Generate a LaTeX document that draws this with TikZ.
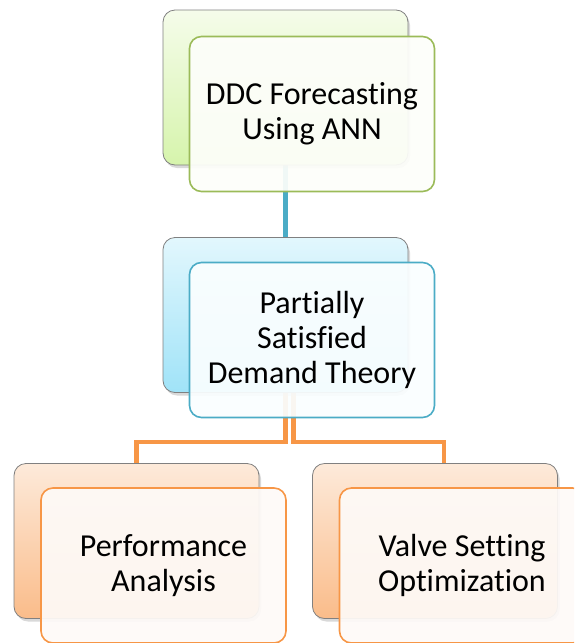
\documentclass[tikz,border=0pt]{standalone}
\usepackage{fontspec}
\setmainfont{Carlito}[Ligatures=NoCommon]
\usetikzlibrary{calc,shadows,backgrounds}

\definecolor{ddcgreen}{RGB}{155,187,89}
\definecolor{ddcblue}{RGB}{75,172,198}
\definecolor{ddcorange}{RGB}{247,150,70}

\tikzset{
	backbox/.style={draw=black!50, line width=0.8pt, rounded corners=12pt,
		minimum width=245pt, minimum height=155pt, inner sep=0pt,
		drop shadow={opacity=0.3, shadow xshift=2pt, shadow yshift=-3pt}},
	frontbox/.style={line width=1.6pt, rounded corners=12pt,
		minimum width=245pt, minimum height=155pt, inner sep=0pt, align=center,
		font=\fontsize{32}{35}\selectfont, fill opacity=0.93, text opacity=1},
	link/.style={line width=4.2pt},
}

\begin{document}
\begin{tikzpicture}[x=1pt,y=-1pt]
			\path[use as bounding box, clip] (0,0) rectangle (574,643);

			% top: forecasting
			\node[backbox, top color={rgb,255:red,245;green,252;blue,234}, bottom color={rgb,255:red,214;green,244;blue,172}] (tback) at (285.5,87.5) {};
			\node[frontbox, draw=ddcgreen, fill={rgb,255:red,253;green,254;blue,250}] (tfront) at ($(tback)+(26.5,26.5)$) {DDC Forecasting\\Using ANN};

			% middle: demand theory
			\node[backbox, top color={rgb,255:red,226;green,247;blue,253}, bottom color={rgb,255:red,160;green,227;blue,248}] (mback) at (285.5,315) {};
			\node[frontbox, draw=ddcblue, fill={rgb,255:red,250;green,254;blue,255}] (mfront) at ($(mback)+(26.5,25)$) {Partially\\Satisfied\\Demand Theory};

			% bottom row
			\node[backbox, top color={rgb,255:red,253;green,234;blue,218}, bottom color={rgb,255:red,250;green,188;blue,138}] (lback) at (136.5,541) {};
			\node[frontbox, draw=ddcorange, fill={rgb,255:red,254;green,250;blue,247}] (lfront) at ($(lback)+(27,24.5)$) {Performance\\Analysis};

			\node[backbox, top color={rgb,255:red,253;green,234;blue,218}, bottom color={rgb,255:red,250;green,188;blue,138}] (rback) at (435,541) {};
			\node[frontbox, draw=ddcorange, fill={rgb,255:red,254;green,250;blue,247}] (rfront) at ($(rback)+(27,24.5)$) {Valve Setting\\Optimization};

			% connectors behind the boxes
			\begin{scope}[on background layer]
				\draw[link, ddcblue] (tback.south) -- (mback.north);
				\draw[link, ddcorange] (mback.south) |- ($(lback.north)+(0,-21)$) -- (lback.north);
				\draw[link, ddcorange] ([xshift=8pt]mback.south) |- ($(rback.north)+(9,-21)$) -- ([xshift=9pt]rback.north);
			\end{scope}
		\end{tikzpicture}
\end{document}
